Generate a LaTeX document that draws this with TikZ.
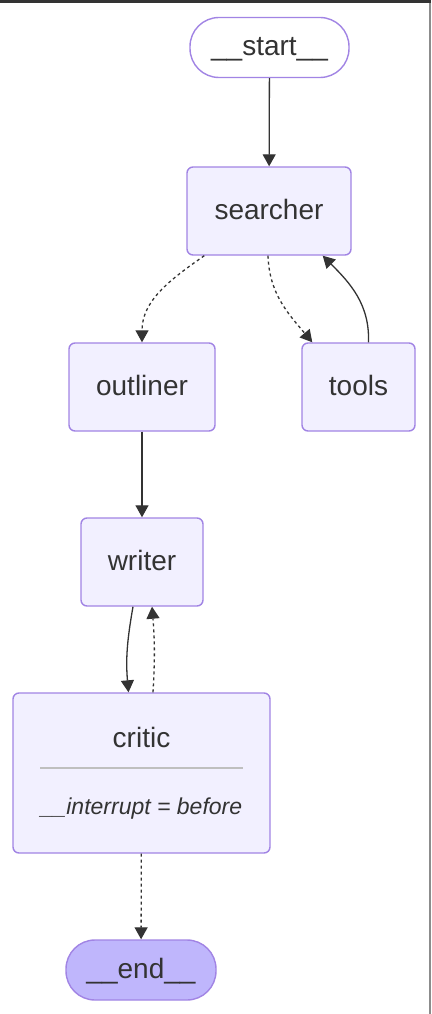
\documentclass[tikz,border=0pt]{standalone}
\usepackage{fontspec}
\setmainfont{Liberation Sans}
\usetikzlibrary{positioning, arrows.meta}
\definecolor{boxfill}{HTML}{F2F0FF}
\definecolor{boxline}{HTML}{A184E4}
\definecolor{endfill}{HTML}{BFB6FC}
\definecolor{edgeline}{HTML}{333333}
\definecolor{textgray}{HTML}{333333}
\tikzset{every graphnode/.style={draw=boxline, line width=1.4pt, fill=boxfill, rounded corners=6pt,
           inner sep=0pt, text=textgray, font=\fontsize{28}{32}\selectfont, text height=18pt, text depth=1pt},
         graphnode/.style={every graphnode, minimum width=#1, minimum height=88pt},
         terminal/.style={every graphnode, rounded corners=29pt, minimum width=#1, minimum height=60pt},
         edge/.style={draw=edgeline, line width=1.3pt, -{Triangle[length=12pt,width=13pt]}},
         dottededge/.style={edge, dash pattern=on 3pt off 3pt},
        }

\begin{document}
\begin{tikzpicture}[x=1pt, y=1pt]
        \useasboundingbox (0,0) rectangle (431,-1014);
        \fill[black!80] (0,0) rectangle (431,-3);
        \fill[black!45] (428.5,-3) rectangle (430.5,-1014);

        \node[terminal=159pt, fill=white](start)at(269.5,-47.5){\_\_start\_\_};
        \node[graphnode=164pt](searcher)at(269,-211){searcher};
        \node[graphnode=146pt](outliner)at(142,-387){outliner};
        \node[graphnode=113pt](tools)at(358.5,-387){tools};
        \node[graphnode=122pt](writer)at(142,-562){writer};
        \node[graphnode=257pt, minimum height=160pt](critic)at(141.5,-773){};
        \node[text=textgray, font=\fontsize{28}{32}\selectfont, anchor=base](crittitle)at(141.5,-747){critic};
        \draw[black!25, line width=1.4pt](40,-768)--(243,-768);
        \node[text=textgray, font=\fontsize{23}{27}\selectfont\itshape, anchor=base](interrupt)at(141.5,-814){\_\_interrupt = before};
        \node[terminal=150pt, fill=endfill](end)at(141,-970){\_\_end\_\_};

        \draw[edge](start)--(searcher);
        \draw[dottededge]([xshift=18pt]searcher.south west) to[out=-145, in=90] (outliner.north);
        \draw[dottededge]([xshift=-1pt]searcher.south) to[out=-88, in=130] ([xshift=11pt]tools.north west);
        \draw[edge]([xshift=10pt]tools.north) to[out=88, in=-45] ([xshift=-29pt]searcher.south east);
        \draw[edge](outliner)--(writer);
        \draw[edge]([xshift=-9pt]writer.south) to[out=-100, in=95] ([xshift=-13pt]critic.north);
        \draw[dottededge]([xshift=11.5pt]critic.north) to[bend right=4] ([xshift=10pt]writer.south);
        \draw[dottededge](critic)--(end);
    \end{tikzpicture}
\end{document}
